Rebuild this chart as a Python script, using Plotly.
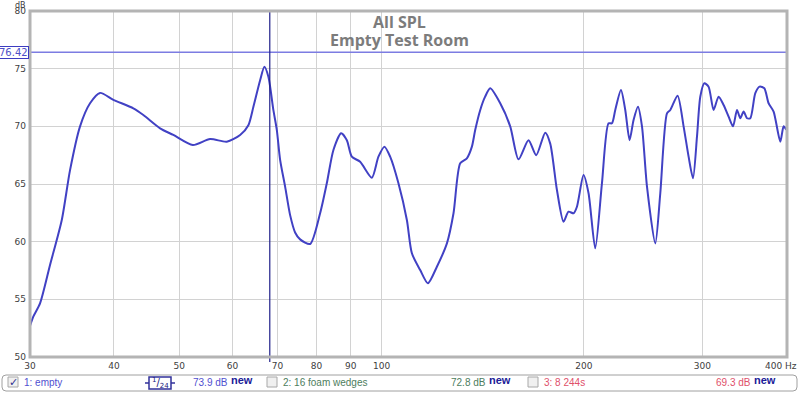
import plotly.graph_objects as go

# ---------------- data ----------------
freq_hz = [30.0, 30.34, 31.05, 32.13, 33.45, 34.41, 35.61, 36.85,
           38.13, 39.91, 42.74, 44.23, 46.84, 49.02, 52.40, 55.59, 58.86, 61.61, 63.38,
           64.48, 65.98, 66.95, 67.88, 69.05, 69.86, 70.66, 71.88, 73.12, 74.38, 75.67, 78.31,
           81.03, 82.91, 84.81, 87.08, 88.80, 90.33, 92.94, 96.74, 98.95, 101.01, 103.00,
           105.97, 109.07, 110.96, 114.16, 117.21, 120.88, 125.10, 127.96, 130.93, 133.96,
           136.28, 137.83, 140.2, 142.6, 145.10, 150.16, 155.39, 159.87, 165.44, 169.87,
           175.19, 178.22, 182.36, 186.52, 189.75, 193.03, 195.29, 199.75, 203.21, 207.92,
           212.75, 217.62, 220.17, 222.68, 227.07, 230.44, 233.87, 237.09, 240.70, 244.02,
           248.24, 255.40, 259.81, 265.84, 268.87, 275.67, 281.40, 286.27, 290.62, 294.60,
           297.95, 302.06, 306.54, 311.85, 317.25, 322.73, 328.31, 333.30, 337.90, 341.74,
           345.63, 349.68, 353.63, 359.74, 365.08, 371.01, 376.52, 383.02, 391.92, 396.38,
           400.06]
spl_db = [52.7, 53.5, 54.65, 57.98, 61.88, 66.2, 70.0, 72.0,
          72.9, 72.3, 71.56, 70.98, 69.83, 69.25, 68.38, 68.9, 68.67, 69.25, 70.1,
          71.7, 74.0, 75.17, 74.3, 71.4, 69.7, 67.1, 64.77, 62.3, 60.8, 60.2, 59.8,
          62.46, 65.06, 67.95, 69.4, 68.8, 67.37, 66.93, 65.55, 67.37, 68.24, 67.37,
          65.06, 61.88, 58.99, 57.54, 56.39, 57.83, 59.85, 62.46, 66.79, 67.23,
          68.24, 69.68, 71.4, 72.57, 73.3, 72.0, 70.0, 67.14, 68.8, 67.5,
          69.45, 68.5, 64.48, 61.73, 62.6, 62.46, 63.03, 65.78, 64.2, 59.42,
          65.06, 70.26, 70.26, 71.42, 73.15, 71.42, 68.8, 70.55, 71.7, 70.0,
          64.77, 59.85, 64.2, 71.13, 71.42, 72.66, 70.0, 67.37, 65.5, 69.1,
          72.57, 73.73, 73.44, 71.42, 72.57, 71.85, 70.84, 70.0, 71.42, 70.7,
          71.28, 70.7, 70.7, 72.87, 73.44, 73.3, 72.0, 71.28, 68.67, 70.0,
          69.7]

cursor_freq = 68.2
cursor_db = 76.42

x_tick_vals = [30, 40, 50, 60, 70, 80, 90, 100, 200, 300, 400]
x_tick_text = ["30", "40", "50", "60", "70", "80", "90", "100", "200", "300", ""]
x_end_label = "400 Hz"
y_tick_vals = [50, 55, 60, 65, 70, 75, 80]

title_lines = ["All SPL", "Empty Test Room"]

legend_names = ["1: empty", "2: 16 foam wedges", "3: 8 244s"]
legend_values = ["73.9 dB", "72.8 dB", "69.3 dB"]
legend_colors = ["#5050d0", "#4d7d5d", "#e0506a"]
smoothing_label = "1/24"

# ---------------- layout helpers (pixels -> paper) ----------------
L, R, T, B = 30, 787, 11, 357
W, H = 800, 396


def px(xp):
    return (xp - L) / (R - L)


def py(yp):
    return (B - yp) / (B - T)


LINE_COLOR = "#4141c4"
fig = go.Figure()
fig.add_trace(go.Scatter(
    x=freq_hz, y=spl_db, mode="lines",
    line=dict(color=LINE_COLOR, width=2, shape="spline", smoothing=0.7),
    hoverinfo="skip", showlegend=False))

shapes = []
annotations = []

# cursor lines
shapes.append(dict(type="line", xref="paper", yref="y", x0=px(2), x1=1, y0=cursor_db, y1=cursor_db,
                   line=dict(color="#7c7ce2", width=1.5), layer="above"))
shapes.append(dict(type="line", xref="x", yref="paper", x0=cursor_freq, x1=cursor_freq,
                   y0=py(362), y1=1, line=dict(color="#20208a", width=1.2), layer="above"))

# plot frame
shapes.append(dict(type="rect", xref="paper", yref="paper", x0=0, x1=1, y0=0, y1=1,
                   line=dict(color="#b4b4b4", width=3), layer="above"))

# legend bar (rounded box)
x0, x1, y0, y1, r = 2, 797, 375, 391, 4
path = (f"M {px(x0 + r)},{py(y0)} L {px(x1 - r)},{py(y0)} Q {px(x1)},{py(y0)} {px(x1)},{py(y0 + r)} "
        f"L {px(x1)},{py(y1 - r)} Q {px(x1)},{py(y1)} {px(x1 - r)},{py(y1)} "
        f"L {px(x0 + r)},{py(y1)} Q {px(x0)},{py(y1)} {px(x0)},{py(y1 - r)} "
        f"L {px(x0)},{py(y0 + r)} Q {px(x0)},{py(y0)} {px(x0 + r)},{py(y0)} Z")
shapes.append(dict(type="path", xref="paper", yref="paper", path=path,
                   line=dict(color="#a0a0a0", width=1), fillcolor="white", layer="above"))

label_font = dict(family="Liberation Sans, Arial", size=10)
tick_font = dict(family="DejaVu Sans", size=9, color="#404040")

# cursor value boxes
annotations.append(dict(xref="paper", yref="y", x=px(29), y=cursor_db, xanchor="right", yanchor="middle",
                        text=f"{cursor_db:.2f}", showarrow=False, bgcolor="white",
                        bordercolor="#3c3cc0", borderwidth=1, borderpad=0,
                        font=dict(family="DejaVu Sans", size=10, color="#5050c8")))
annotations.append(dict(xref="x", yref="paper", x=cursor_freq, y=py(367), xanchor="center", yanchor="middle",
                        text=f"{cursor_freq}", showarrow=False, bgcolor="white",
                        bordercolor="#3c3cc0", borderwidth=1, borderpad=0,
                        font=dict(family="DejaVu Sans", size=10, color="#5050c8")))

# dB unit label and right-end axis label
annotations.append(dict(xref="paper", yref="paper", x=px(27), y=py(0), xanchor="right", yanchor="top",
                        text="dB", showarrow=False, borderpad=0,
                        font=dict(family="DejaVu Sans", size=8, color="#404040")))
annotations.append(dict(xref="paper", yref="paper", x=px(799), y=py(366), xanchor="right", yanchor="middle",
                        text=x_end_label, showarrow=False, font=tick_font))

# title
for i, t in enumerate(title_lines):
    annotations.append(dict(xref="paper", yref="paper", x=px(399), y=py(22 + 18 * i),
                            xanchor="center", yanchor="middle", text=f"<b>{t}</b>", showarrow=False,
                            font=dict(family="Open Sans", size=16, color="#7c7c7c")))

# legend entries
check_x = [8, 267, 528]
value_x = [230, 488, 753]
for i in range(3):
    cx = check_x[i]
    shapes.append(dict(type="rect", xref="paper", yref="paper", x0=px(cx), x1=px(cx + 10),
                       y0=py(387), y1=py(377), line=dict(color="#a8a8a8", width=1),
                       fillcolor="#f0f0f0", layer="above"))
    annotations.append(dict(xref="paper", yref="paper", x=px(cx + 14), y=py(382), xanchor="left",
                            yanchor="middle", text=legend_names[i], showarrow=False,
                            font=dict(label_font, color=legend_colors[i])))
    annotations.append(dict(xref="paper", yref="paper", x=px(value_x[i]), y=py(382), xanchor="right",
                            yanchor="middle", text=legend_values[i], showarrow=False,
                            font=dict(label_font, color=legend_colors[i])))
    annotations.append(dict(xref="paper", yref="paper", x=px(value_x[i] - 1), y=py(379.5), xanchor="left",
                            yanchor="middle", text="<b>new</b>", showarrow=False,
                            font=dict(family="Liberation Sans, Arial", size=11, color="#202098")))
# checkmark on first entry
annotations.append(dict(xref="paper", yref="paper", x=px(13), y=py(382), xanchor="center",
                        yanchor="middle", text="✓", showarrow=False,
                        font=dict(family="DejaVu Sans", size=11, color="#303090")))

# smoothing icon
shapes.append(dict(type="rect", xref="paper", yref="paper", x0=px(149), x1=px(171),
                   y0=py(389), y1=py(377), line=dict(color="#30309a", width=1.5),
                   fillcolor="white", layer="above"))
for a, b in [(145, 149), (171, 175)]:
    shapes.append(dict(type="line", xref="paper", yref="paper", x0=px(a), x1=px(b),
                       y0=py(383), y1=py(383), line=dict(color="#30309a", width=1.5), layer="above"))
num, den = smoothing_label.split("/")
annotations.append(dict(xref="paper", yref="paper", x=px(160), y=py(383), xanchor="center",
                        yanchor="middle", text=f"<sup>{num}</sup>/<sub>{den}</sub>", showarrow=False,
                        font=dict(family="DejaVu Sans", size=10, color="#202080")))

fig.update_layout(
    width=W, height=H,
    margin=dict(l=L, r=W - R, t=T, b=H - B, autoexpand=False),
    paper_bgcolor="white", plot_bgcolor="white",
    shapes=shapes, annotations=annotations,
    showlegend=False,
    xaxis=dict(type="log", range=[1.47712, 2.60314], tickmode="array",
               tickvals=x_tick_vals, ticktext=x_tick_text, showgrid=True,
               gridcolor="#d2d2d2", gridwidth=1, zeroline=False, showline=False,
               ticks="", tickfont=tick_font, ticklabelstandoff=2, automargin=False),
    yaxis=dict(range=[50, 80], tickmode="array", tickvals=y_tick_vals, showgrid=True,
               gridcolor="#d2d2d2", gridwidth=1, zeroline=False, showline=False,
               ticks="", tickfont=tick_font, ticklabelstandoff=3, automargin=False),
)

fig.write_html("out.html", config={"displayModeBar": False},
               post_script="document.body.style.margin='0';document.body.style.overflow='hidden';")
